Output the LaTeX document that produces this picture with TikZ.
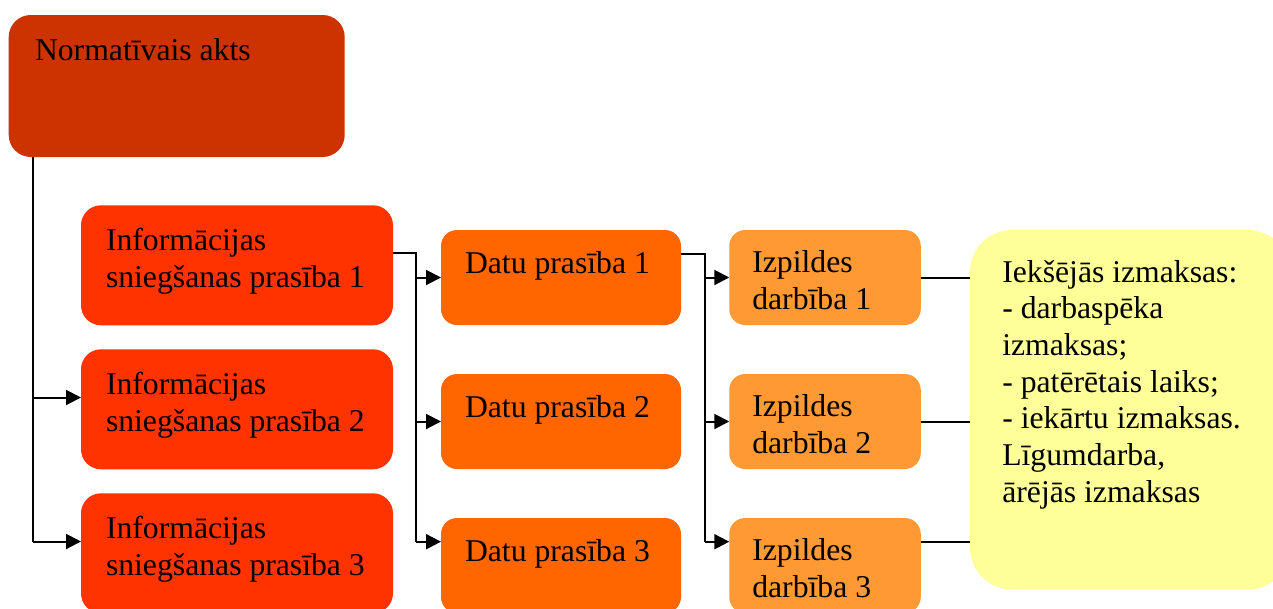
\documentclass[tikz,border=0pt]{standalone}
\usepackage{fontspec}
\setmainfont{Liberation Serif}
\usetikzlibrary{arrows.meta}
\definecolor{cNorm}{HTML}{CC3300}
\definecolor{cInfo}{HTML}{FF3300}
\definecolor{cDatu}{HTML}{FF6600}
\definecolor{cIzp}{HTML}{FF9933}
\definecolor{cYel}{HTML}{FFFF99}
\begin{document}
\begin{tikzpicture}[x=1pt,y=-1pt,
  box/.style={rectangle, draw=none, inner sep=0pt, outer sep=0pt},
  txt/.style={anchor=base west, inner sep=0pt, outer sep=0pt, align=left,
              font=\fontsize{31.7}{36.7}\selectfont},
  conn/.style={line width=2pt},
  arr/.style={conn, -{Triangle[length=15pt,width=15pt]}}]
\useasboundingbox (0,0) rectangle (1273,608);
\clip (0,0) rectangle (1273,608);
% boxes
\node[box, fill=cNorm, rounded corners=22pt, minimum width=336pt, minimum height=142pt] (norm) at (176.7,86) {};
\node[box, fill=cInfo, rounded corners=20pt, minimum width=312pt, minimum height=120pt] (info1) at (237,265.3) {};
\node[box, fill=cInfo, rounded corners=20pt, minimum width=312pt, minimum height=120pt] (info2) at (237,409.3) {};
\node[box, fill=cInfo, rounded corners=20pt, minimum width=312pt, minimum height=120pt] (info3) at (237,553.3) {};
\node[box, fill=cDatu, rounded corners=16pt, minimum width=240pt, minimum height=95pt] (datu1) at (561,277.5) {};
\node[box, fill=cDatu, rounded corners=16pt, minimum width=240pt, minimum height=95pt] (datu2) at (561,421.5) {};
\node[box, fill=cDatu, rounded corners=16pt, minimum width=240pt, minimum height=95pt] (datu3) at (561,565.5) {};
\node[box, fill=cIzp, rounded corners=16pt, minimum width=191.5pt, minimum height=95pt] (izp1) at (825,277.5) {};
\node[box, fill=cIzp, rounded corners=16pt, minimum width=191.5pt, minimum height=95pt] (izp2) at (825,421.5) {};
\node[box, fill=cIzp, rounded corners=16pt, minimum width=191.5pt, minimum height=95pt] (izp3) at (825,565.5) {};
\node[box, fill=cYel, rounded corners=42pt, minimum width=320pt, minimum height=359.5pt] (yel) at (1130,409.8) {};
% texts (base anchor = baseline of the last line)
\node[txt] (tnorm) at (35,60.7) {Normatīvais akts};
\node[txt] (tinfo1) at (106,287.3) {Informācijas\\sniegšanas prasība 1};
\node[txt] (tinfo2) at (106,431.3) {Informācijas\\sniegšanas prasība 2};
\node[txt] (tinfo3) at (106,575.3) {Informācijas\\sniegšanas prasība 3};
\node[txt] (tdatu1) at (465,273.3) {Datu prasība 1};
\node[txt] (tdatu2) at (465,417.3) {Datu prasība 2};
\node[txt] (tdatu3) at (465,561.3) {Datu prasība 3};
\node[txt] (tizp1) at (752.3,309) {Izpildes\\darbība 1};
\node[txt] (tizp2) at (752.3,453) {Izpildes\\darbība 2};
\node[txt] (tizp3) at (752.3,597) {Izpildes\\darbība 3};
\node[txt] (tyel) at (1002.3,502.3) {Iekšējās izmaksas:\\- darbaspēka\\izmaksas;\\- patērētais laiks;\\- iekārtu izmaksas.\\Līgumdarba,\\ārējās izmaksas};
% connectors: Normatīvais akts
\coordinate (nTop) at (32.5,157);
\coordinate (nA) at (32.5,397.5);
\coordinate (nB) at (32.5,541.5);
\draw[conn] (nTop) -- (nB);
\draw[arr] (nA) -- (nA -| info2.west);
\draw[arr] (nB) -- (nB -| info3.west);
% connectors: Info 1 -> Datu
\coordinate (iS) at (393,253.3);
\coordinate (iK) at (416,253.3);
\coordinate (iA) at (416,277.5);
\coordinate (iB) at (416,421.5);
\coordinate (iC) at (416,541.7);
\draw[conn] (iS) -- (iK) -- (iC);
\draw[arr] (iA) -- (iA -| datu1.west);
\draw[arr] (iB) -- (iB -| datu2.west);
\draw[arr] (iC) -- (iC -| datu3.west);
% connectors: Datu 1 -> Izpildes
\coordinate (dS) at (681,254);
\coordinate (dK) at (705,254);
\coordinate (dA) at (705,277.5);
\coordinate (dB) at (705,421.5);
\coordinate (dC) at (705,541.7);
\draw[conn] (dS) -- (dK) -- (dC);
\draw[arr] (dA) -- (dA -| izp1.west);
\draw[arr] (dB) -- (dB -| izp2.west);
\draw[arr] (dC) -- (dC -| izp3.west);
% connectors: Izpildes -> costs
\draw[conn] (izp1.east) -- (izp1.east -| yel.west);
\draw[conn] (izp2.east) -- (izp2.east -| yel.west);
\coordinate (zC) at (921,541.7);
\draw[conn] (zC) -- (zC -| yel.west);
\end{tikzpicture}
\end{document}
